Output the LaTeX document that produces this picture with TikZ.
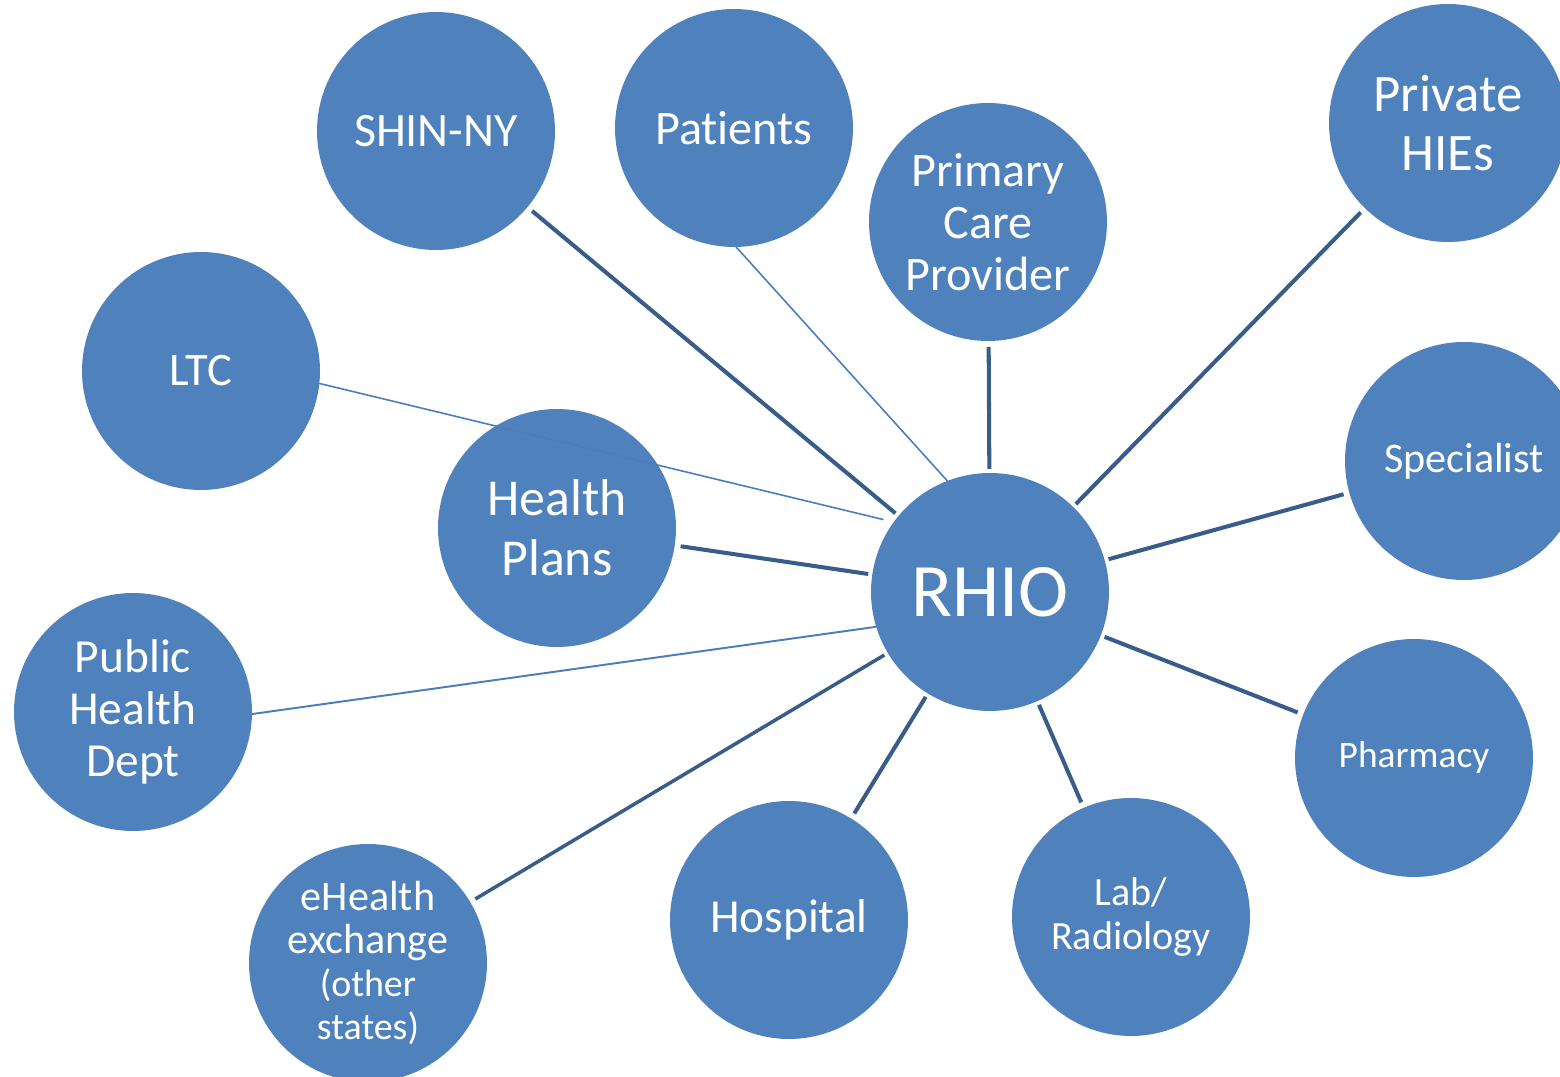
\documentclass[tikz,border=0pt]{standalone}
\usepackage{fontspec}
\setmainfont{Carlito}[Ligatures=NoCommon]
\definecolor{hubblue}{HTML}{4F81BD}
\definecolor{linkblue}{HTML}{385D8A}
\definecolor{thinblue}{HTML}{4A7EBB}

\begin{document}
\begin{tikzpicture}[x=0.02cm, y=-0.02cm,
		member/.style={circle, fill=hubblue, minimum size=4.76cm, inner sep=0pt, outer sep=0pt, text=white, align=center},
		link/.style={draw=linkblue, line width=2.3pt, shorten <=3.4pt, shorten >=2.3pt},
		thinlink/.style={draw=thinblue, line width=0.9pt}]
			\useasboundingbox (0,0) rectangle (1560,1077);

			% hub
			\node[member, font=\fontsize{43}{48}\selectfont] (rhio) at (990,592) {RHIO};

			% members, top row
			\node[member, font=\fontsize{27.3}{30}\selectfont] (shin) at (436,131) {SHIN-NY};
			\node[member, font=\fontsize{27.4}{30}\selectfont] (patients) at (734,128) {Patients};
			\node[member, font=\fontsize{27.4}{29.5}\selectfont] (pcp) at (988,222) {Primary\\Care\\Provider};
			\node[member, font=\fontsize{30}{34}\selectfont] (hies) at (1448,123) {Private\\HIEs};

			% members, left and right
			\node[member, font=\fontsize{26.5}{30}\selectfont] (ltc) at (201,371) {LTC};
			\node[member, font=\fontsize{29.5}{34}\selectfont] (plans) at (557,528) {Health\\Plans};
			\node[member, font=\fontsize{27}{29.5}\selectfont] (public) at (133,712) {Public\\Health\\Dept};
			\node[member, font=\fontsize{24}{29}\selectfont] (spec) at (1464,461) {Specialist};
			\node[member, font=\fontsize{21.3}{26}\selectfont] (pharm) at (1414,758) {Pharmacy};

			% members, bottom row
			\node[member, font=\fontsize{24}{24.5}\selectfont] (ehealth) at (368,963)
			{eHealth\\exchange\\{\fontsize{21.6}{24}\selectfont(other}\\{\fontsize{21.6}{24}\selectfont states)}};
			\node[member, font=\fontsize{27}{31}\selectfont] (hosp) at (789,920) {Hospital};
			\node[member, font=\fontsize{22.8}{25.5}\selectfont] (lab) at (1131,917) {Lab/\\Radiology};

			% links to the hub
			\foreach \m in {shin,pcp,hies,plans,spec,pharm,lab,hosp}
			\draw[link] (\m) -- (rhio);
			\draw[link, line width=2pt] (ehealth) -- (rhio);
			\draw[thinlink] (patients.-89) -- (rhio.111);
			\draw[thinlink, shorten >=6pt] (ltc.-6) -- (rhio.144);
			\draw[thinlink, line width=1.1pt] (public.-1) -- (rhio.197);
		\end{tikzpicture}
\end{document}
